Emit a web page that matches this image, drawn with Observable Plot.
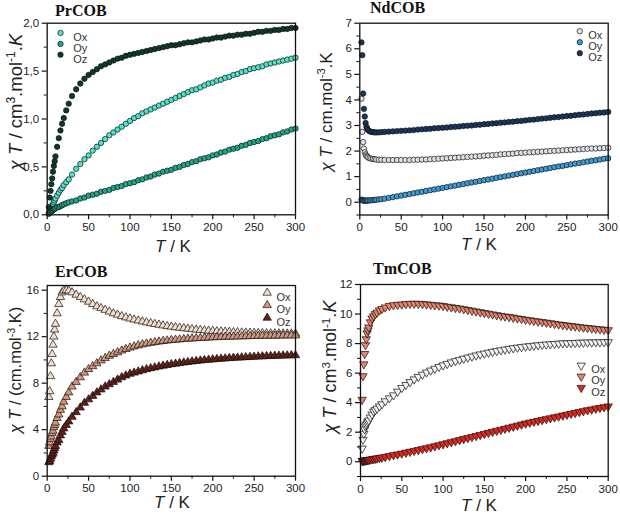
<!DOCTYPE html>
<html>
<head>
<meta charset="utf-8">
<script src="https://cdn.jsdelivr.net/npm/d3@7"></script>
<script src="https://cdn.jsdelivr.net/npm/@observablehq/plot@0.6"></script>
<style>
  html, body { margin: 0; padding: 0; background: #fff; }
  #fig { position: relative; width: 620px; height: 516px; overflow: hidden; font-family: "Liberation Sans", Arial, sans-serif; }
  .panel { position: absolute; width: 310px; height: 258px; }
  .title { position: absolute; font-family: "Liberation Serif", "Times New Roman", serif; font-weight: bold; font-size: 16px; line-height: 1; color: #111; white-space: nowrap; }
  .xlab { position: absolute; font-size: 17px; line-height: 1; color: #222; white-space: nowrap; transform: translate(-50%, 0); }
  .ylab { position: absolute; line-height: 1; color: #222; white-space: nowrap; transform: translate(-50%, -50%) rotate(-90deg); }
  .ylab sup { font-size: 0.65em; vertical-align: 0.55em; line-height: 0; }
</style>
</head>
<body>
<div id="fig"></div>
<script>
// Temperatures (K) shared by all series
const T = [2,3,4,5,6,7,8,9,10,12,14,16,18,20,23,26,30,35,40,45,
  50,55,60,65,70,75,80,85,90,95,100,105,110,115,120,125,130,135,140,145,150,155,160,165,170,175,180,185,190,195,
  200,205,210,215,220,225,230,235,240,245,250,255,260,265,270,275,280,285,290,295,300];

const xTicks = [0,50,100,150,200,250,300];
const xMinor = [25,75,125,175,225,275];
const seriesNames = ["Ox","Oy","Oz"];

// PrCOB
const prOx = [0.02,0.04,0.06,0.08,0.10,0.11,0.13,0.15,0.17,0.20,0.23,0.26,0.28,0.31,0.34,0.37,0.42,0.48,0.53,0.58,
  0.62,0.67,0.71,0.75,0.79,0.83,0.86,0.89,0.92,0.95,0.98,1.01,1.03,1.06,1.08,1.10,1.12,1.14,1.16,1.18,1.20,1.22,1.24,1.26,1.28,1.30,1.31,1.33,1.35,1.37,
  1.38,1.40,1.41,1.43,1.44,1.46,1.47,1.49,1.50,1.52,1.53,1.54,1.55,1.57,1.58,1.59,1.60,1.61,1.62,1.63,1.64];
const prOy = [0.01,0.02,0.03,0.04,0.04,0.05,0.06,0.06,0.07,0.08,0.08,0.09,0.10,0.11,0.12,0.13,0.14,0.15,0.17,0.18,
  0.20,0.21,0.22,0.24,0.25,0.26,0.28,0.29,0.30,0.32,0.33,0.34,0.36,0.37,0.39,0.40,0.42,0.43,0.45,0.46,0.47,0.49,0.50,0.52,0.53,0.55,0.56,0.58,0.59,0.60,
  0.62,0.63,0.65,0.66,0.68,0.69,0.70,0.72,0.73,0.75,0.76,0.77,0.79,0.80,0.82,0.83,0.84,0.86,0.87,0.89,0.90];
const prOz = [0.08,0.18,0.25,0.32,0.38,0.45,0.51,0.56,0.61,0.71,0.80,0.88,0.95,1.01,1.09,1.16,1.24,1.31,1.37,1.42,
  1.46,1.49,1.52,1.55,1.57,1.59,1.61,1.63,1.64,1.66,1.67,1.68,1.69,1.70,1.71,1.72,1.73,1.74,1.75,1.76,1.77,1.77,1.78,1.79,1.80,1.80,1.81,1.82,1.83,1.83,
  1.84,1.85,1.85,1.86,1.87,1.87,1.88,1.88,1.89,1.89,1.90,1.91,1.91,1.92,1.92,1.93,1.93,1.94,1.94,1.95,1.95];
const prYTicks = [0,0.5,1,1.5,2];
const prYMinor = [0.25,0.75,1.25,1.75];

// NdCOB
const ndOx = [4.05,2.75,2.35,2.10,1.95,1.87,1.82,1.78,1.75,1.72,1.70,1.69,1.68,1.67,1.66,1.66,1.65,1.65,1.65,1.65,
  1.65,1.65,1.65,1.66,1.66,1.67,1.67,1.68,1.69,1.70,1.71,1.72,1.73,1.74,1.75,1.76,1.77,1.78,1.79,1.80,1.82,1.83,1.84,1.85,1.87,1.88,1.89,1.90,1.92,1.93,
  1.94,1.95,1.96,1.97,1.98,1.99,2.00,2.01,2.02,2.03,2.04,2.05,2.06,2.07,2.08,2.09,2.10,2.10,2.11,2.12,2.13];
const ndOy = [0.10,0.08,0.07,0.06,0.06,0.06,0.06,0.06,0.07,0.07,0.08,0.08,0.09,0.10,0.11,0.12,0.14,0.17,0.20,0.23,
  0.26,0.29,0.32,0.35,0.38,0.41,0.44,0.47,0.50,0.53,0.56,0.59,0.62,0.65,0.68,0.71,0.74,0.77,0.80,0.83,0.86,0.89,0.92,0.95,0.98,1.01,1.04,1.07,1.10,1.13,
  1.16,1.19,1.22,1.25,1.28,1.31,1.34,1.37,1.40,1.42,1.45,1.48,1.51,1.53,1.56,1.59,1.62,1.64,1.67,1.70,1.72];
const ndOz = [6.25,5.75,4.25,3.65,3.35,3.10,2.95,2.87,2.82,2.77,2.75,2.74,2.73,2.73,2.73,2.74,2.75,2.76,2.77,2.78,
  2.79,2.80,2.81,2.82,2.84,2.85,2.86,2.87,2.89,2.90,2.91,2.92,2.94,2.95,2.96,2.98,2.99,3.00,3.02,3.03,3.05,3.06,3.08,3.09,3.11,3.12,3.14,3.15,3.17,3.18,
  3.20,3.22,3.23,3.25,3.27,3.28,3.30,3.32,3.33,3.35,3.37,3.38,3.40,3.42,3.43,3.45,3.47,3.48,3.50,3.51,3.53];
const ndYTicks = [0,1,2,3,4,5,6,7];
const ndYMinor = [-0.5,0.5,1.5,2.5,3.5,4.5,5.5,6.5];

// ErCOB
const erOx = [6.8,7.3,8.6,9.7,10.5,11.3,12.0,12.6,13.1,14.0,14.8,15.4,15.8,15.95,16.0,15.95,15.8,15.6,15.4,15.2,
  15.0,14.8,14.6,14.45,14.3,14.15,14.0,13.88,13.75,13.65,13.55,13.46,13.38,13.3,13.22,13.15,13.08,13.02,12.96,12.9,12.85,12.8,12.76,12.72,12.68,12.64,12.6,12.57,12.54,12.51,
  12.48,12.46,12.44,12.42,12.4,12.38,12.37,12.35,12.34,12.33,12.32,12.31,12.3,12.29,12.28,12.28,12.27,12.27,12.26,12.26,12.25];
const erOy = [2.6,2.9,3.2,3.4,3.7,3.9,4.2,4.4,4.6,5.0,5.3,5.7,6.0,6.4,6.8,7.2,7.7,8.1,8.5,8.9,
  9.2,9.45,9.7,9.95,10.15,10.35,10.5,10.65,10.8,10.93,11.05,11.15,11.25,11.33,11.4,11.46,11.52,11.57,11.62,11.66,11.7,11.73,11.76,11.79,11.82,11.84,11.86,11.88,11.9,11.92,
  11.94,11.95,11.97,11.98,11.99,12.0,12.01,12.02,12.03,12.04,12.05,12.06,12.07,12.07,12.08,12.08,12.09,12.09,12.1,12.1,12.1];
const erOz = [1.2,1.3,1.5,1.7,1.85,2.0,2.2,2.4,2.6,2.9,3.1,3.5,3.8,4.1,4.4,4.7,5.1,5.5,5.9,6.3,
  6.6,6.9,7.2,7.45,7.7,7.9,8.1,8.3,8.5,8.65,8.8,8.9,9.0,9.1,9.2,9.28,9.35,9.43,9.5,9.56,9.62,9.67,9.72,9.77,9.82,9.86,9.9,9.94,9.98,10.01,
  10.04,10.07,10.1,10.12,10.15,10.17,10.19,10.21,10.23,10.25,10.27,10.29,10.3,10.32,10.33,10.35,10.36,10.37,10.38,10.39,10.4];
const erYTicks = [0,4,8,12,16];
const erYMinor = [2,6,10,14];

// TmCOB
const tmOx = [0.9,1.5,1.9,2.2,2.4,2.5,2.6,2.7,2.8,3.0,3.2,3.4,3.5,3.6,3.75,3.9,4.1,4.3,4.5,4.75,
  5.0,5.2,5.4,5.58,5.75,5.9,6.05,6.18,6.3,6.42,6.53,6.63,6.73,6.82,6.9,6.98,7.06,7.13,7.2,7.27,7.33,7.39,7.45,7.5,7.55,7.6,7.65,7.69,7.73,7.77,
  7.8,7.83,7.86,7.89,7.92,7.94,7.96,7.98,8.0,8.02,8.03,8.04,8.05,8.06,8.07,8.08,8.08,8.09,8.09,8.1,8.1];
const tmOy = [4.2,5.8,6.6,7.3,7.9,8.3,8.7,8.9,9.1,9.45,9.7,9.85,10.0,10.1,10.25,10.35,10.45,10.55,10.6,10.63,
  10.65,10.68,10.7,10.7,10.7,10.68,10.66,10.63,10.6,10.58,10.55,10.5,10.46,10.42,10.38,10.33,10.28,10.23,10.18,10.13,10.08,10.03,9.98,9.93,9.88,9.84,9.8,9.76,9.71,9.67,
  9.62,9.58,9.54,9.5,9.46,9.42,9.38,9.34,9.3,9.26,9.23,9.19,9.16,9.12,9.09,9.06,9.03,9.0,8.97,8.94,8.91];
const tmOz = [0.05,0.06,0.07,0.08,0.09,0.1,0.11,0.12,0.13,0.15,0.17,0.19,0.21,0.23,0.26,0.29,0.33,0.39,0.45,0.5,
  0.56,0.62,0.68,0.74,0.8,0.86,0.92,0.98,1.05,1.12,1.19,1.26,1.33,1.4,1.47,1.54,1.61,1.68,1.75,1.82,1.89,1.96,2.03,2.1,2.17,2.24,2.31,2.38,2.45,2.52,
  2.59,2.65,2.71,2.77,2.83,2.89,2.95,3.01,3.07,3.13,3.19,3.25,3.31,3.37,3.43,3.49,3.54,3.6,3.65,3.7,3.75];
const tmYTicks = [0,2,4,6,8,10,12];
const tmYMinor = [-1,1,3,5,7,9,11];

// downward triangle symbol
const triangleDown = {
  draw(context, size) {
    const s3 = Math.sqrt(3);
    const y = -Math.sqrt(size / (s3 * 3));
    context.moveTo(0, -y * 2);
    context.lineTo(-s3 * y, y);
    context.lineTo(s3 * y, y);
    context.closePath();
  }
};

const panels = [
  { left: 0, top: 0, title: "PrCOB", titleX: 55, titleY: 3,
    ml: 46.7, mr: 15, mt: 22.7, mb: 43.7, domain: [0, 2],
    yTicks: prYTicks, yMinor: prYMinor, fmt: d => d.toFixed(1).replace(".", ","),
    series: [prOx, prOy, prOz], colors: ["#4fe3cb", "#1fa68d", "#0c3a2e"],
    symbol: "circle", r: 2.7,
    legend: { anchor: "top-left", sx: 13.3, tx: 26, dy: [9.7, 20.7, 31.5] },
    xlab: [173, 238], ylab: [16, 102], yfs: 18.5,
    ytext: '<i>χ T</i> / cm<sup>3</sup>.mol<sup>-1</sup>.<i>K</i>' },
  { left: 310, top: 0, title: "NdCOB", titleX: 60, titleY: 0,
    ml: 49.3, mr: 12.3, mt: 22.7, mb: 43.5, domain: [-0.5, 7],
    yTicks: ndYTicks, yMinor: ndYMinor, fmt: d => String(d),
    series: [ndOx, ndOy, ndOz], colors: ["#dfe3e8", "#3f9bd8", "#17375c"],
    symbol: "circle", r: 2.7,
    legend: { anchor: "top-right", sx: -28.4, tx: -20, dy: [8, 19, 30] },
    xlab: [169, 236], ylab: [16, 112], yfs: 17,
    ytext: '<i>χ T</i> / cm.mol<sup>-3</sup>.K' },
  { left: 0, top: 258, title: "ErCOB", titleX: 55, titleY: 6,
    ml: 46.7, mr: 15, mt: 27, mb: 40.3, domain: [0, 16.4],
    yTicks: erYTicks, yMinor: erYMinor, fmt: d => String(d),
    series: [erOx, erOy, erOz], colors: ["#f3ddcb", "#d3967d", "#651f14"],
    symbol: "triangle", r: 3.1,
    legend: { anchor: "top-right", sx: -28.3, tx: -19, dy: [7.3, 19.7, 32.3] },
    xlab: [172, 236], ylab: [15, 112], yfs: 16.5,
    ytext: '<i>χ T</i> / (cm.mol<sup>-3</sup>.K)' },
  { left: 310, top: 258, title: "TmCOB", titleX: 63, titleY: 3,
    ml: 50, mr: 12.3, mt: 26, mb: 40, domain: [-1, 12],
    yTicks: tmYTicks, yMinor: tmYMinor, fmt: d => String(d),
    series: [tmOx, tmOy, tmOz], colors: ["#f2f2f5", "#e8826b", "#e0261c"],
    symbol: triangleDown, r: 3.1,
    legend: { anchor: "top-right", sx: -27, tx: -17, dy: [81, 92, 103.3] },
    xlab: [169, 239], ylab: [20, 109], yfs: 18,
    ytext: '<i>χ T</i> / cm<sup>3</sup>.mol<sup>-1</sup>.<i>K</i>' }
];

const fig = document.getElementById("fig");

for (const p of panels) {
  const marks = [];
  p.series.forEach((vals, k) => {
    const rows = T.map((t, i) => ({ T: t, v: vals[i] }));
    marks.push(Plot.dot(rows, {
      x: "T", y: "v", r: p.r, symbol: p.symbol,
      fill: p.colors[k], stroke: "#111", strokeWidth: 0.7
    }));
  });
  marks.push(
    Plot.frame({ stroke: "#111", strokeWidth: 1.3 }),
    Plot.axisX({ ticks: xTicks, tickSize: 5, tickPadding: 3, tickFormat: d => String(d), label: null, stroke: "#111", strokeWidth: 1.2 }),
    Plot.axisX({ ticks: xMinor, tickSize: 3, tickFormat: () => "", label: null, stroke: "#111" }),
    Plot.axisY({ ticks: p.yTicks, tickSize: 5, tickPadding: 3, tickFormat: p.fmt, label: null, stroke: "#111", strokeWidth: 1.2 }),
    Plot.axisY({ ticks: p.yMinor.filter(v => v > p.domain[0] - 1e-9), tickSize: 3, tickFormat: () => "", label: null, stroke: "#111" })
  );
  // legend
  seriesNames.forEach((name, k) => {
    marks.push(Plot.dot([name], {
      frameAnchor: p.legend.anchor, dx: p.legend.sx, dy: p.legend.dy[k],
      r: p.r, symbol: p.symbol, fill: p.colors[k], stroke: "#111", strokeWidth: 0.7
    }));
    marks.push(Plot.text([name], {
      frameAnchor: p.legend.anchor, dx: p.legend.tx, dy: p.legend.dy[k],
      text: d => d, textAnchor: "start", fill: "#333", fontSize: 11
    }));
  });

  const chart = Plot.plot({
    width: 310, height: 258,
    marginLeft: p.ml, marginRight: p.mr, marginTop: p.mt, marginBottom: p.mb,
    x: { domain: [0, 300] },
    y: { domain: p.domain },
    style: { fontSize: "11.5px", fontFamily: "'Liberation Sans', Arial, sans-serif", color: "#222", background: "transparent" },
    marks
  });

  const div = document.createElement("div");
  div.className = "panel";
  div.style.left = p.left + "px";
  div.style.top = p.top + "px";
  div.appendChild(chart);

  const title = document.createElement("div");
  title.className = "title";
  title.style.left = p.titleX + "px";
  title.style.top = p.titleY + "px";
  title.textContent = p.title;
  div.appendChild(title);

  const xl = document.createElement("div");
  xl.className = "xlab";
  xl.style.left = p.xlab[0] + "px";
  xl.style.top = p.xlab[1] + "px";
  xl.innerHTML = "<i>T</i> / K";
  div.appendChild(xl);

  const yl = document.createElement("div");
  yl.className = "ylab";
  yl.style.left = p.ylab[0] + "px";
  yl.style.top = p.ylab[1] + "px";
  yl.style.fontSize = p.yfs + "px";
  yl.innerHTML = p.ytext;
  div.appendChild(yl);

  fig.appendChild(div);
}
</script>
</body>
</html>
